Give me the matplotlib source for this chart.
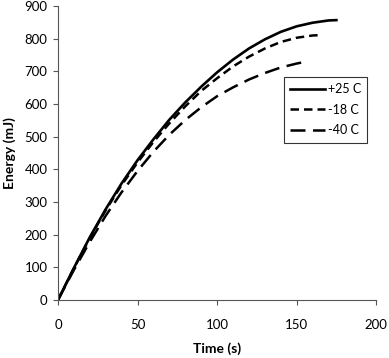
import matplotlib
matplotlib.use("Agg")
import matplotlib.pyplot as plt

# values (time in s, energy in mJ)
t_25 = [0, 10, 20, 30, 40, 50, 60, 70, 80, 90, 100, 110, 120, 130, 140, 150, 160, 170, 175]
e_25 = [0, 98, 192, 278, 357, 428, 492, 552, 605, 653, 697, 736, 770, 798, 821, 838, 849, 856, 857]

t_18 = [0, 10, 20, 30, 40, 50, 60, 70, 80, 90, 100, 110, 120, 130, 140, 150, 160, 165]
e_18 = [0, 97, 190, 275, 352, 421, 484, 541, 593, 640, 679, 715, 745, 770, 790, 803, 810, 811]

t_40 = [0, 10, 20, 30, 40, 50, 60, 70, 80, 90, 100, 110, 120, 130, 140, 150, 155]
e_40 = [0, 92, 178, 258, 330, 395, 454, 506, 551, 590, 624, 651, 675, 695, 712, 724, 729]

labels = ["+25 C", "-18 C", "-40 C"]

plt.rcParams["font.family"] = ["Lato", "DejaVu Sans"]

fig = plt.figure(figsize=(3.89, 3.58), dpi=100)
ax = fig.add_axes([0.149, 0.162, 0.818, 0.821])

ax.plot(t_25, e_25, color="black", lw=1.9, label=labels[0])
ax.plot(t_18, e_18, color="black", lw=1.8, dashes=(3.4, 2.0), label=labels[1])
ax.plot(t_40, e_40, color="black", lw=1.8, dashes=(6.0, 3.0), label=labels[2])

ax.set_xlim(0, 200)
ax.set_ylim(0, 900)
ax.set_xticks(range(0, 201, 50))
ax.set_yticks(range(0, 901, 100))
ax.spines["top"].set_visible(False)
ax.spines["right"].set_visible(False)
for s in ["left", "bottom"]:
    ax.spines[s].set_color("#555555")
ax.tick_params(axis="both", direction="out", length=3.5, color="#555555", labelsize=9.5)
ax.tick_params(axis="x", pad=10)
ax.tick_params(axis="y", pad=4)

ax.set_xlabel("Time (s)", fontsize=10, fontweight="bold", labelpad=8)
ax.set_ylabel("Energy (mJ)", fontsize=10, fontweight="bold", labelpad=6)

leg = ax.legend(loc="upper left", bbox_to_anchor=(0.71, 0.76), fontsize=9,
                frameon=True, fancybox=False, edgecolor="black",
                handlelength=2.8, handletextpad=0.2, borderpad=0.5,
                labelspacing=0.7, borderaxespad=0)
leg.get_frame().set_linewidth(0.8)

plt.savefig("out.png", dpi=100)
